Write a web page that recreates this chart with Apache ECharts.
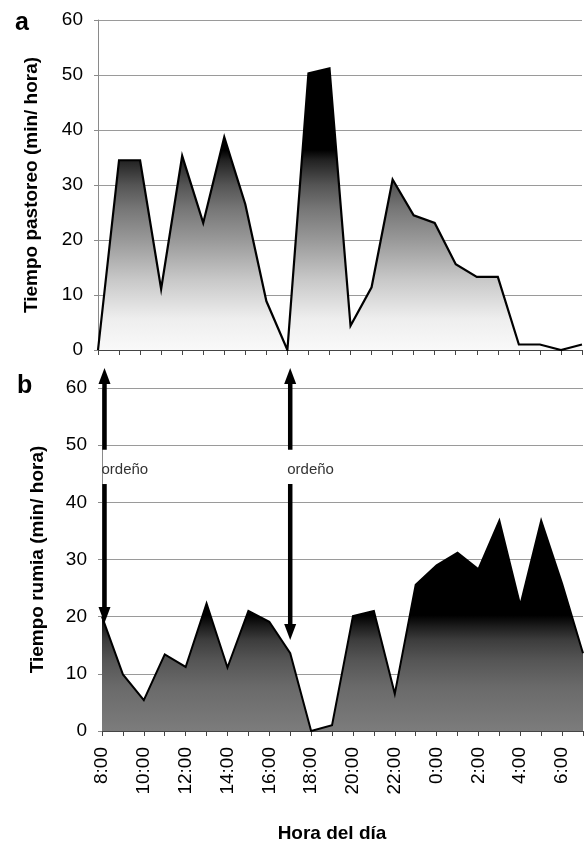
<!DOCTYPE html>
<html>
<head>
<meta charset="utf-8">
<script src="https://cdn.jsdelivr.net/npm/echarts@6/dist/echarts.min.js"></script>
<style>
html,body{margin:0;padding:0;background:#fff;}
#c{width:584px;height:844px;}
</style>
</head>
<body>
<div id="c"></div>
<script>
// ---- data ----
const hours = ['8:00','9:00','10:00','11:00','12:00','13:00','14:00','15:00','16:00','17:00','18:00','19:00','20:00','21:00','22:00','23:00','0:00','1:00','2:00','3:00','4:00','5:00','6:00','7:00'];
const pastoreo = [0, 34.5, 34.5, 11.1, 35.3, 23.1, 38.7, 26.5, 8.9, 0, 50.3, 51.2, 4.4, 11.4, 31.0, 24.5, 23.1, 15.6, 13.3, 13.3, 1.0, 1.0, 0, 1.0];
const rumia = [20.0, 9.9, 5.4, 13.4, 11.2, 22.3, 11.1, 21.0, 19.1, 13.6, 0, 1.0, 20.1, 21.0, 6.5, 25.6, 29.0, 31.2, 28.3, 36.8, 22.0, 36.8, 25.8, 13.6];
const yTicks = [0, 10, 20, 30, 40, 50, 60];
const milkingIdx = [0, 9];
const milkingTip = [18.9, 15.9];
const milkingLabel = 'ordeño';

const FONT = '"Liberation Sans", Arial, sans-serif';
const chart = echarts.init(document.getElementById('c'), null, {renderer: 'canvas'});

function yAxisCfg(gi, name, gap) {
  return {
    type: 'value', gridIndex: gi, min: yTicks[0], max: yTicks[yTicks.length - 1], interval: yTicks[1] - yTicks[0],
    name: name, nameLocation: 'middle', nameGap: gap, nameRotate: 90,
    nameTextStyle: {fontFamily: FONT, fontSize: 19, fontWeight: 'bold', color: '#000'},
    axisLine: {show: true, lineStyle: {color: '#8a8a8a', width: 1}},
    axisTick: {show: true, length: 4, lineStyle: {color: '#8a8a8a'}},
    axisLabel: {fontFamily: FONT, fontSize: 19, color: '#000', margin: 15},
    splitLine: {show: true, lineStyle: {color: '#9a9a9a', width: 1}}
  };
}
function xAxisCfg(gi, showLabels) {
  return {
    type: 'category', gridIndex: gi, data: hours, boundaryGap: false,
    axisLine: {show: true, lineStyle: {color: '#444', width: 1.2}},
    axisTick: {show: true, interval: 0, length: 5, lineStyle: {color: '#444'}},
    axisLabel: {show: showLabels, interval: 1, rotate: 90, fontFamily: FONT, fontSize: 19, color: '#000', margin: 16},
    splitLine: {show: false}
  };
}

const topGrad = new echarts.graphic.LinearGradient(0, 0, 0, 1, [
  {offset: 0, color: '#000'}, {offset: 0.29, color: '#000'}, {offset: 0.326, color: '#222'},
  {offset: 0.415, color: '#555'}, {offset: 0.5, color: '#777'}, {offset: 0.61, color: '#999'},
  {offset: 0.75, color: '#c8c8c8'}, {offset: 0.89, color: '#eeeeee'}, {offset: 1, color: '#f9f9f9'}
]);
const botGrad = new echarts.graphic.LinearGradient(0, 0, 0, 1, [
  {offset: 0, color: '#000'}, {offset: 0.45, color: '#000'}, {offset: 0.505, color: '#1e1e1e'},
  {offset: 0.568, color: '#3d3d3d'}, {offset: 0.663, color: '#555'}, {offset: 0.79, color: '#6a6a6a'},
  {offset: 1, color: '#7c7c7c'}
]);

chart.setOption({
  animation: false,
  backgroundColor: '#fff',
  grid: [
    {left: 98, right: 2, top: 20, height: 330},
    {left: 102, right: 1, top: 388, height: 343}
  ],
  xAxis: [xAxisCfg(0, false), xAxisCfg(1, true)],
  yAxis: [yAxisCfg(0, 'Tiempo pastoreo (min/ hora)', 57), yAxisCfg(1, 'Tiempo rumia (min/ hora)', 55)],
  series: [
    {type: 'line', xAxisIndex: 0, yAxisIndex: 0, data: pastoreo, symbol: 'none',
     lineStyle: {color: '#000', width: 2.2, join: 'miter'}, areaStyle: {color: topGrad, opacity: 1}, z: 3},
    {type: 'line', xAxisIndex: 1, yAxisIndex: 1, data: rumia, symbol: 'none',
     lineStyle: {color: '#000', width: 2, join: 'miter'}, areaStyle: {color: botGrad, opacity: 1}, z: 3}
  ]
});

// annotations
const g = [];
g.push({type: 'text', left: 15, top: 11, style: {text: 'a', font: 'bold 25px ' + FONT, fill: '#000'}});
g.push({type: 'text', left: 17, top: 374, style: {text: 'b', font: 'bold 25px ' + FONT, fill: '#000'}});
g.push({type: 'text', x: 332, y: 834, style: {text: 'Hora del día', font: 'bold 19px ' + FONT, fill: '#000', align: 'center', verticalAlign: 'middle'}});

const gridLeft = chart.convertToPixel({seriesIndex: 1}, [0, 0])[0];
milkingIdx.forEach((idx, i) => {
  let [x, yTop] = chart.convertToPixel({seriesIndex: 1}, [idx, 63.5]);
  x = Math.max(x, gridLeft + 2.5);
  const yGap1 = chart.convertToPixel({seriesIndex: 1}, [idx, 49.2])[1];
  const yGap2 = chart.convertToPixel({seriesIndex: 1}, [idx, 43.2])[1];
  const yText = chart.convertToPixel({seriesIndex: 1}, [idx, 45.7])[1];
  const yTip = chart.convertToPixel({seriesIndex: 1}, [idx, milkingTip[i]])[1];
  const hw = 6, hl = 16, sw = 4.5;
  g.push({type: 'polygon', z: 10, shape: {points: [[x, yTop], [x - hw, yTop + hl], [x + hw, yTop + hl]]}, style: {fill: '#000'}});
  g.push({type: 'rect', z: 10, shape: {x: x - sw / 2, y: yTop + hl - 2, width: sw, height: yGap1 - (yTop + hl - 2)}, style: {fill: '#000'}});
  g.push({type: 'rect', z: 10, shape: {x: x - sw / 2, y: yGap2, width: sw, height: (yTip - hl + 2) - yGap2}, style: {fill: '#000'}});
  g.push({type: 'polygon', z: 10, shape: {points: [[x, yTip], [x - hw, yTip - hl], [x + hw, yTip - hl]]}, style: {fill: '#000'}});
  g.push({type: 'text', z: 10, x: x - 3, y: yText, style: {text: milkingLabel, font: '15px ' + FONT, fill: '#333', align: 'left', verticalAlign: 'middle'}});
});
chart.setOption({graphic: g});
</script>
</body>
</html>
